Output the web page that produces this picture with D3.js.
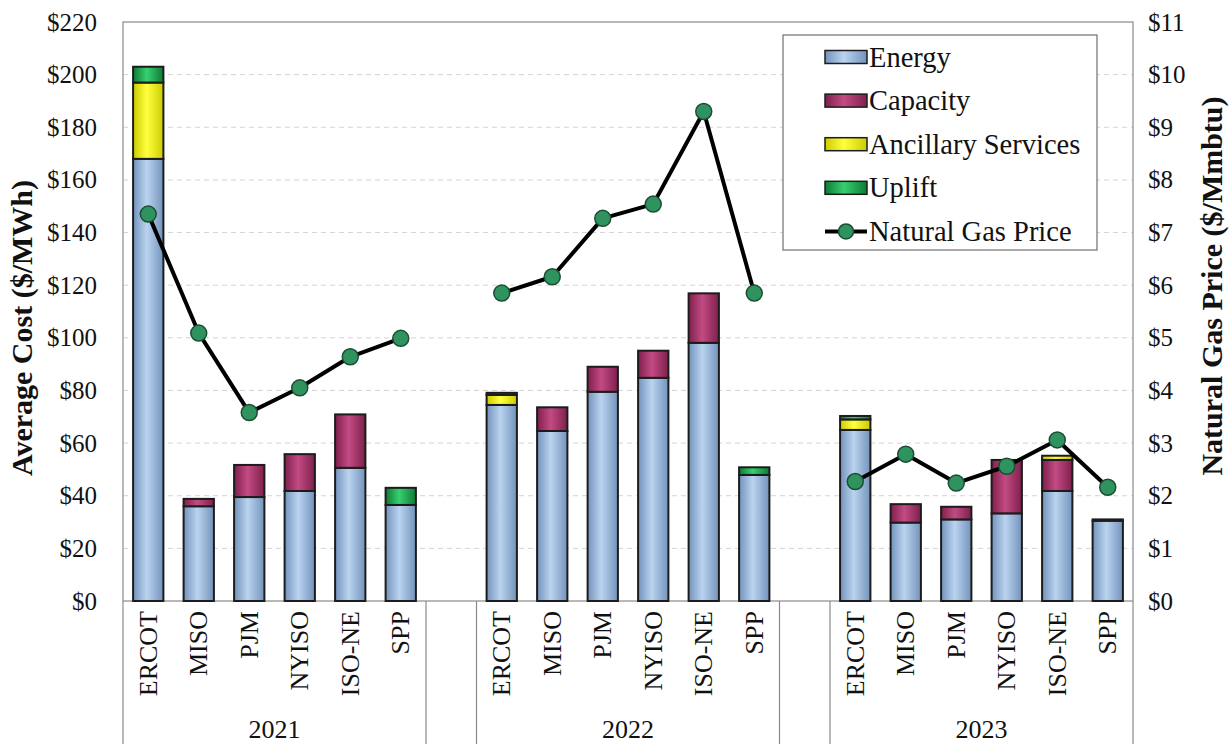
<!DOCTYPE html>
<html><head><meta charset="utf-8">
<script src="https://cdn.jsdelivr.net/npm/d3@7"></script>
<style>body{margin:0;background:#fff}</style></head>
<body><svg id="c" width="1231" height="744"></svg>
<script>
const years = ["2021","2022","2023"];
const regions = ["ERCOT","MISO","PJM","NYISO","ISO-NE","SPP"];
const energy    = [[168,36,39.5,41.8,50.6,36.5],[74.5,64.6,79.5,84.8,98.1,47.9],[65,29.8,31,33.3,41.8,30.5]];
const capacity  = [[0,2.8,12.2,14,20.3,0],[0,9,9.5,10.3,18.8,0],[0,7,4.8,20.3,11.8,0]];
const ancillary = [[29,0,0,0,0,0],[3.8,0,0,0,0,0],[4,0,0,0,1.6,0]];
const uplift    = [[6,0,0,0,0,6.5],[0.8,0,0,0,0,2.9],[1.3,0,0,0,0,0.5]];
const gasPrice  = [[7.35,5.09,3.58,4.05,4.64,4.99],[5.85,6.16,7.27,7.54,9.30,5.85],[2.27,2.79,2.24,2.56,3.06,2.16]];
const leftTicks  = d3.range(0,221,20);
const rightTicks = d3.range(0,12,1);
const seriesNames = ["Energy","Capacity","Ancillary Services","Uplift"];
const lineName = "Natural Gas Price";

const svg = d3.select("#c");
const L=123, R=1133, T=22, B=601;
const serif = "'Liberation Serif','Times New Roman',serif";

const slots=[];
years.forEach((y,i)=>{ regions.forEach(r=>slots.push(y+"|"+r)); if(i<years.length-1) slots.push("gap"+i); });
const x = d3.scaleBand().domain(slots).range([L,R]).paddingInner(0.4).paddingOuter(0.2);
const yL = d3.scaleLinear().domain([0,220]).range([B,T]);
const yR = d3.scaleLinear().domain([0,11]).range([B,T]);

const defs = svg.append("defs");
const palette = {
  "Energy":["#7393bc","#bad3ef"],
  "Capacity":["#7f1f4c","#c24b83"],
  "Ancillary Services":["#cccc00","#ffff40"],
  "Uplift":["#0f7a35","#36d070"]
};
const gradId = {};
seriesNames.forEach((s,i)=>{
  const id="g"+i; gradId[s]=id;
  const g=defs.append("linearGradient").attr("id",id).attr("x1","0").attr("x2","1").attr("y1","0").attr("y2","0");
  g.append("stop").attr("offset","0%").attr("stop-color",palette[s][0]);
  g.append("stop").attr("offset","45%").attr("stop-color",palette[s][1]);
  g.append("stop").attr("offset","100%").attr("stop-color",palette[s][0]);
});

svg.append("g").selectAll("line").data(leftTicks.filter(d=>d>0&&d<220)).join("line")
  .attr("x1",L).attr("x2",R).attr("y1",d=>yL(d)).attr("y2",d=>yL(d))
  .attr("stroke","#d4d4d4").attr("stroke-width",1).attr("stroke-dasharray","5,4");

svg.append("rect").attr("x",L).attr("y",T).attr("width",R-L).attr("height",B-T)
  .attr("fill","none").attr("stroke","#8a8a8a").attr("stroke-width",1.2);

const axL = svg.append("g").attr("transform",`translate(${L},0)`)
  .call(d3.axisLeft(yL).tickValues(leftTicks).tickSize(0).tickPadding(26).tickFormat(d=>"$"+d));
axL.select(".domain").remove();
axL.selectAll("text").attr("font-family",serif).attr("font-size",25).attr("fill","#111");
const axR = svg.append("g").attr("transform",`translate(${R},0)`)
  .call(d3.axisRight(yR).tickValues(rightTicks).tickSize(0).tickPadding(15).tickFormat(d=>"$"+d));
axR.select(".domain").remove();
axR.selectAll("text").attr("font-family",serif).attr("font-size",25).attr("fill","#111");

svg.append("text").attr("transform",`translate(21,328) rotate(-90)`)
  .attr("text-anchor","middle").attr("dominant-baseline","central")
  .attr("font-family",serif).attr("font-weight","bold").attr("font-size",30).attr("fill","#111")
  .text("Average Cost ($/MWh)");
svg.append("text").attr("transform",`translate(1211,286) rotate(-90)`)
  .attr("text-anchor","middle").attr("dominant-baseline","central")
  .attr("font-family",serif).attr("font-weight","bold").attr("font-size",30).attr("fill","#111")
  .text("Natural Gas Price ($/Mmbtu)");

const rows=[];
years.forEach((y,i)=>regions.forEach((r,j)=>rows.push({
  key:y+"|"+r, "Energy":energy[i][j], "Capacity":capacity[i][j],
  "Ancillary Services":ancillary[i][j], "Uplift":uplift[i][j]})));
const stack = d3.stack().keys(seriesNames)(rows);
const bars = svg.append("g");
stack.forEach(layer=>{
  bars.append("g").selectAll("rect").data(layer.filter(d=>d[1]-d[0]>0)).join("rect")
    .attr("x",d=>x(d.data.key)).attr("width",x.bandwidth())
    .attr("y",d=>yL(d[1])).attr("height",d=>yL(d[0])-yL(d[1]))
    .attr("fill",`url(#${gradId[layer.key]})`)
    .attr("stroke","#1c1c1c").attr("stroke-width",2);
});

const line = d3.line().x(d=>x(d.key)+x.bandwidth()/2).y(d=>yR(d.v));
years.forEach((y,i)=>{
  const pts = regions.map((r,j)=>({key:y+"|"+r, v:gasPrice[i][j]}));
  svg.append("path").datum(pts).attr("d",line).attr("fill","none")
    .attr("stroke","#000").attr("stroke-width",4).attr("stroke-linejoin","round");
  svg.append("g").selectAll("circle").data(pts).join("circle")
    .attr("cx",d=>x(d.key)+x.bandwidth()/2).attr("cy",d=>yR(d.v)).attr("r",8)
    .attr("fill","#2f9360").attr("stroke","#1d4d33").attr("stroke-width",1.5);
});

const cat = svg.append("g");
const step = x.step();
years.forEach((y,i)=>{
  const x0 = x(y+"|"+regions[0]) - step*0.2;
  const x1 = x(y+"|"+regions[regions.length-1]) + x.bandwidth() + step*0.2;
  [x0,x1].forEach(xx=>cat.append("line").attr("x1",xx).attr("x2",xx).attr("y1",B).attr("y2",744)
    .attr("stroke","#8a8a8a").attr("stroke-width",1.2));
  regions.forEach(r=>{
    cat.append("text").attr("transform",`translate(${x(y+"|"+r)+x.bandwidth()/2},611) rotate(-90)`)
      .attr("text-anchor","end").attr("dominant-baseline","central")
      .attr("font-family",serif).attr("font-size",26).attr("fill","#111").text(r);
  });
  cat.append("text").attr("x",(x0+x1)/2).attr("y",729).attr("text-anchor","middle")
    .attr("dominant-baseline","central").attr("font-family",serif).attr("font-size",26).attr("fill","#111").text(y);
});

const lg = svg.append("g");
lg.append("rect").attr("x",783).attr("y",35).attr("width",314).attr("height",215)
  .attr("fill","#fff").attr("stroke","#7a7a7a").attr("stroke-width",1.3);
const rowY = i=>57+i*43.6;
seriesNames.forEach((s,i)=>{
  lg.append("rect").attr("x",825).attr("y",rowY(i)-6.5).attr("width",42).attr("height",13)
    .attr("fill",`url(#${gradId[s]})`).attr("stroke","#1c1c1c").attr("stroke-width",1.5);
  lg.append("text").attr("x",869).attr("y",rowY(i)).attr("dominant-baseline","central")
    .attr("font-family",serif).attr("font-size",28.5).attr("fill","#111").text(s);
});
lg.append("line").attr("x1",825).attr("x2",867).attr("y1",rowY(4)).attr("y2",rowY(4))
  .attr("stroke","#000").attr("stroke-width",4);
lg.append("circle").attr("cx",846).attr("cy",rowY(4)).attr("r",7.5)
  .attr("fill","#2f9360").attr("stroke","#1d4d33").attr("stroke-width",1.5);
lg.append("text").attr("x",869).attr("y",rowY(4)).attr("dominant-baseline","central")
  .attr("font-family",serif).attr("font-size",28.5).attr("fill","#111").text(lineName);
</script>
</body></html>
